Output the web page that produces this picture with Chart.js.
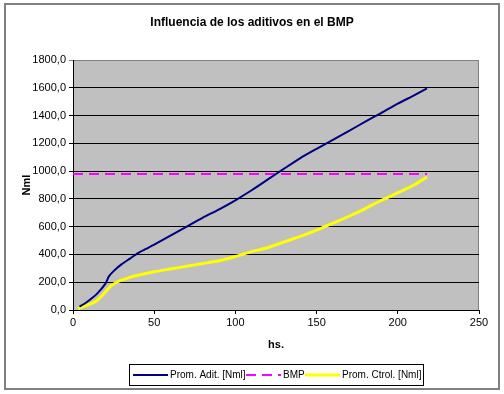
<!DOCTYPE html>
<html>
<head>
<meta charset="utf-8">
<script src="https://cdn.jsdelivr.net/npm/chart.js@4.4.0/dist/chart.umd.min.js"></script>
<style>
  html, body { margin: 0; padding: 0; background: #fff; }
  #wrap { width: 504px; height: 394px; }
</style>
</head>
<body>
<div id="wrap"><canvas id="grafico" width="504" height="394"></canvas></div>
<script>
// datos
var horasAdit = [4, 7, 10, 15, 20, 22, 25, 30, 35, 40, 45, 50, 60, 70, 80, 90, 100, 110, 120, 130, 140, 150, 160, 170, 180, 190, 200, 210, 218];
var promAdit  = [25, 45, 70, 120, 190, 240, 280, 330, 370, 410, 440, 470, 535, 600, 665, 725, 790, 862, 940, 1018, 1094, 1160, 1225, 1290, 1356, 1420, 1486, 1545, 1595];

var horasCtrol = [3, 10, 15, 20, 23, 27, 30, 35, 40, 50, 60, 70, 80, 90, 100, 110, 120, 130, 140, 150, 160, 170, 180, 190, 200, 210, 218];
var promCtrol  = [10, 40, 70, 130, 170, 200, 215, 235, 250, 275, 295, 315, 335, 355, 385, 420, 450, 490, 530, 575, 625, 675, 730, 790, 845, 900, 958];

var horasBMP = [0, 218];
var valorBMP = [980, 980];

var nombres = ["Prom. Adit. [Nml]", "BMP", "Prom. Ctrol. [Nml]"];
var titulo = "Influencia de los aditivos en el BMP";

function puntos(xs, ys) {
  var p = [];
  for (var i = 0; i < xs.length; i++) p.push({x: xs[i], y: ys[i]});
  return p;
}

var FUENTE = "'Liberation Sans', Arial, sans-serif";

// fondo, marco, titulos y leyenda
var decorado = {
  id: 'decorado',
  beforeDraw: function(chart) {
    var c = chart.ctx, a = chart.chartArea;
    c.save();
    c.fillStyle = '#fff';
    c.fillRect(0, 0, chart.width, chart.height);
    c.strokeStyle = '#808080';
    c.lineWidth = 2;
    c.strokeRect(5, 4, 494, 385);
    c.fillStyle = '#c0c0c0';
    c.fillRect(a.left, a.top, a.right - a.left, a.bottom - a.top);
    c.strokeStyle = '#808080';
    c.lineWidth = 1;
    c.strokeRect(a.left + 0.5, a.top + 0.5, a.right - a.left - 1, a.bottom - a.top);
    c.restore();
  },
  afterDraw: function(chart) {
    var c = chart.ctx;
    c.save();
    c.fillStyle = '#000';
    c.textAlign = 'center';
    c.textBaseline = 'middle';
    c.font = 'bold 12px ' + FUENTE;
    c.fillText(titulo, 252, 23);
    c.font = 'bold 11px ' + FUENTE;
    c.fillText('hs.', 276, 345);
    c.translate(27, 185);
    c.rotate(-Math.PI / 2);
    c.fillText('Nml', 0, 0);
    c.restore();

    // leyenda
    c.save();
    c.strokeStyle = '#000';
    c.lineWidth = 1;
    c.strokeRect(129.5, 364.5, 294, 21);
    c.font = '10px ' + FUENTE;
    c.textBaseline = 'middle';
    c.textAlign = 'left';
    c.fillStyle = '#000';
    var xs = [133, 246, 305];
    var ds = chart.data.datasets;
    for (var i = 0; i < ds.length; i++) {
      c.beginPath();
      c.strokeStyle = ds[i].borderColor;
      c.lineWidth = ds[i].borderWidth;
      c.setLineDash(ds[i].borderDash || []);
      c.moveTo(xs[i], 375);
      c.lineTo(xs[i] + 35, 375);
      c.stroke();
      c.setLineDash([]);
      c.fillText(ds[i].label, xs[i] + 37, 375);
    }
    c.restore();
  }
};

var ctx = document.getElementById('grafico');
var grafico = new Chart(ctx, {
  type: 'line',
  data: {
    datasets: [{
      label: nombres[0],
      data: puntos(horasAdit, promAdit),
      borderColor: '#000080',
      borderWidth: 2,
      pointRadius: 0,
      tension: 0.2
    }, {
      label: nombres[1],
      data: puntos(horasBMP, valorBMP),
      borderColor: '#ff00ff',
      borderWidth: 2,
      borderDash: [10, 6],
      pointRadius: 0
    }, {
      label: nombres[2],
      data: puntos(horasCtrol, promCtrol),
      borderColor: '#ffff00',
      borderWidth: 3,
      pointRadius: 0,
      tension: 0.3
    }]
  },
  options: {
    responsive: false,
    animation: false,
    layout: { padding: { left: 0, right: 25, top: 60, bottom: 0 } },
    plugins: { legend: { display: false }, title: { display: false }, tooltip: { enabled: false } },
    scales: {
      x: {
        type: 'linear',
        min: 0, max: 250,
        ticks: { stepSize: 50, color: '#000', font: { family: FUENTE, size: 11 }, padding: 2, maxRotation: 0 },
        grid: { drawOnChartArea: false, drawTicks: true, tickLength: 4, color: '#000' },
        border: { color: '#000' },
        afterFit: function(s) { s.height = 84; }
      },
      y: {
        min: 0, max: 1800,
        ticks: {
          stepSize: 200, color: '#000', font: { family: FUENTE, size: 11 }, padding: 3,
          callback: function(v) { return v.toFixed(1).replace('.', ','); }
        },
        grid: {
          tickLength: 4,
          color: function(c) { return c.tick && c.tick.value === 1800 ? '#808080' : '#000'; }
        },
        border: { color: '#000' },
        afterFit: function(s) { s.width = 73; }
      }
    }
  },
  plugins: [decorado]
});
</script>
</body>
</html>
